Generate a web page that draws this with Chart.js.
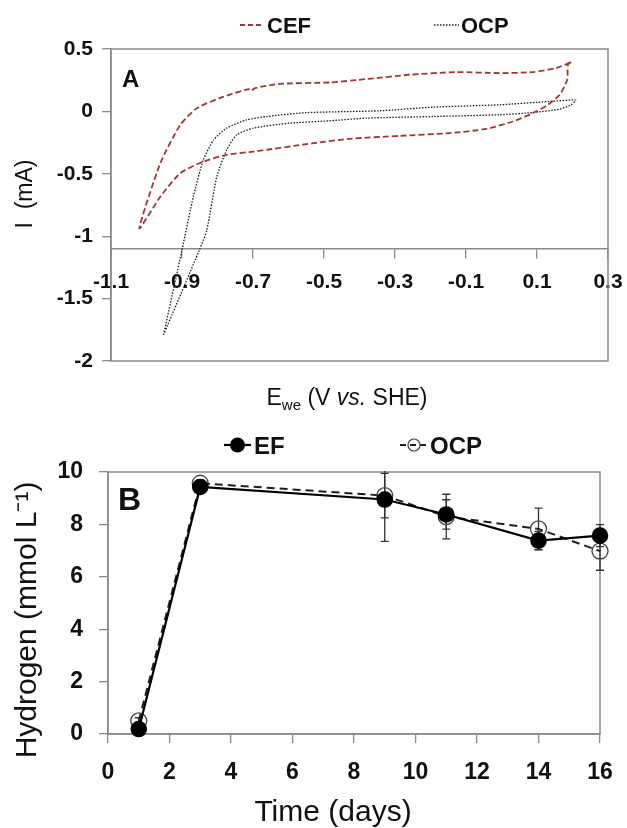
<!DOCTYPE html>
<html>
<head>
<meta charset="utf-8">
<title>CV and hydrogen</title>
<script src="https://cdn.jsdelivr.net/npm/chart.js@4.4.1/dist/chart.umd.min.js"></script>
<style>
  html, body { margin: 0; padding: 0; background: #fff; }
  #wrap { position: relative; width: 627px; height: 828px; overflow: hidden; }
  #cvA { position: absolute; left: 0; top: 0; }
  #cvB { position: absolute; left: 0; top: 420px; }
</style>
</head>
<body>
<div id="wrap">
  <canvas id="cvA" width="627" height="420"></canvas>
  <canvas id="cvB" width="627" height="408"></canvas>
</div>
<script>
// ---- panel A: cyclic voltammograms (E in V vs SHE, I in mA)
const cefPotential = [0.196, 0.187, 0.185, 0.164, 0.131, 0.088, 0.032, -0.043, -0.146, -0.286, -0.43, -0.53,
  -0.699, -0.774, -0.84, -0.905, -0.961, -1.02,
  -0.961, -0.905, -0.858, -0.793, -0.713, -0.705, -0.694, -0.624, -0.483, -0.38, -0.258, -0.127, -0.005, 0.088, 0.154, 0.196];
const cefCurrent = [0.395, 0.374, 0.254, 0.133, 0.053, -0.014, -0.081, -0.14, -0.174, -0.196, -0.22, -0.255,
  -0.322, -0.348, -0.402, -0.495, -0.683, -0.937,
  -0.415, -0.108, 0.026, 0.107, 0.179, 0.165, 0.187, 0.221, 0.232, 0.259, 0.294, 0.315, 0.307, 0.315, 0.347, 0.395];

const ocpPotential = [-0.952, -0.9, -0.868, -0.84, -0.811, -0.774, -0.718, -0.661, -0.55, -0.343, -0.193, -0.005, 0.136, 0.206,
  0.209, 0.196, 0.164, 0.088, -0.005, -0.193, -0.38, -0.483, -0.6, -0.699, -0.746, -0.774, -0.802, -0.83, -0.851, -0.952];
const ocpCurrent = [-1.79, -1.11, -0.683, -0.389, -0.228, -0.134, -0.067, -0.041, -0.01, 0.005, 0.034, 0.053, 0.08, 0.093,
  0.088, 0.053, 0.018, -0.009, -0.027, -0.041, -0.054, -0.075, -0.095, -0.134, -0.188, -0.308, -0.522, -0.95, -1.11, -1.79];

const potentialTicks = [-1.1, -0.9, -0.7, -0.5, -0.3, -0.1, 0.1, 0.3];
const currentTicks = [-2, -1.5, -1, -0.5, 0, 0.5];

// ---- panel B: hydrogen (mmol/L) over time (days)
const days = [1, 3, 9, 11, 14, 16];
const hydrogenEF = [0.19, 9.43, 8.95, 8.38, 7.38, 7.57];
const hydrogenEFErr = [0.12, 0.12, 1.6, 0.56, 0.35, 0.42];
const hydrogenOCP = [0.5, 9.57, 9.1, 8.3, 7.83, 6.98];
const hydrogenOCPErr = [0.12, 0.12, 0.85, 0.85, 0.79, 0.73];

const timeTicks = [0, 2, 4, 6, 8, 10, 12, 14, 16];
const hydrogenTicks = [0, 2, 4, 6, 8, 10];

const FONT = '"Liberation Sans", Arial, sans-serif';
const GRAY = '#8a8a8a';
const INK = '#111111';
const CEF_RED = '#a03636';

function toPoints(xs, ys) {
    return xs.map((x, i) => ({ x: x, y: ys[i] }));
}

// box round the plot area
const framePlugin = {
    id: 'frame',
    beforeDatasetsDraw(chart) {
        const a = chart.chartArea;
        const ctx = chart.ctx;
        ctx.save();
        ctx.strokeStyle = GRAY;
        ctx.lineWidth = 1.5;
        ctx.strokeRect(a.left, a.top, a.right - a.left, a.bottom - a.top);
        ctx.restore();
    }
};

// free text: panel letters and axis titles (with sub/superscript parts)
function textPlugin(items) {
    return {
        id: 'texts',
        afterDraw(chart) {
            const ctx = chart.ctx;
            items.forEach((it) => {
                let total = 0;
                it.parts.forEach((p) => {
                    ctx.font = p.font;
                    p.w = ctx.measureText(p.text).width;
                    total += p.w;
                });
                ctx.save();
                ctx.translate(it.x, it.y);
                ctx.rotate(it.rotate || 0);
                ctx.fillStyle = INK;
                ctx.textBaseline = 'alphabetic';
                let x = it.align === 'left' ? 0 : -total / 2;
                it.parts.forEach((p) => {
                    ctx.font = p.font;
                    ctx.fillText(p.text, x, p.dy || 0);
                    x += p.w;
                });
                ctx.restore();
            });
        }
    };
}

// legend drawn like the spreadsheet one: line sample, optional marker, label
function legendPlugin(items) {
    return {
        id: 'sampleLegend',
        afterDraw(chart) {
            const ctx = chart.ctx;
            items.forEach((it) => {
                ctx.save();
                ctx.strokeStyle = it.color;
                ctx.lineWidth = it.width;
                ctx.setLineDash(it.dash);
                ctx.beginPath();
                ctx.moveTo(it.x0, it.y);
                ctx.lineTo(it.x1, it.y);
                ctx.stroke();
                ctx.setLineDash([]);
                if (it.marker) {
                    ctx.beginPath();
                    ctx.arc(it.mx, it.y, it.r, 0, Math.PI * 2);
                    if (it.marker === 'filled') {
                        ctx.fillStyle = '#000';
                        ctx.fill();
                    } else {
                        ctx.lineWidth = 1.2;
                        ctx.strokeStyle = '#444';
                        ctx.stroke();
                    }
                }
                ctx.fillStyle = INK;
                ctx.font = it.font;
                ctx.textBaseline = 'alphabetic';
                ctx.fillText(it.text, it.tx, it.ty);
                ctx.restore();
            });
        }
    };
}

const errorBarPlugin = {
    id: 'errorBars',
    beforeDatasetsDraw(chart) {
        const ctx = chart.ctx;
        const a = chart.chartArea;
        const xs = chart.scales.x;
        const ys = chart.scales.y;
        ctx.save();
        ctx.beginPath();
        ctx.rect(0, a.top - 1, chart.width, a.bottom - a.top + 2);
        ctx.clip();
        ctx.strokeStyle = '#333';
        ctx.lineWidth = 1.3;
        [[hydrogenOCP, hydrogenOCPErr], [hydrogenEF, hydrogenEFErr]].forEach(([vals, errs]) => {
            days.forEach((d, i) => {
                const px = xs.getPixelForValue(d);
                const top = ys.getPixelForValue(vals[i] + errs[i]);
                const bot = ys.getPixelForValue(vals[i] - errs[i]);
                ctx.beginPath();
                ctx.moveTo(px, top);
                ctx.lineTo(px, bot);
                ctx.moveTo(px - 4, top);
                ctx.lineTo(px + 4, top);
                ctx.moveTo(px - 4, bot);
                ctx.lineTo(px + 4, bot);
                ctx.stroke();
            });
        });
        ctx.restore();
    }
};

function fixedTicks(values) {
    return (scale) => {
        scale.ticks = values.map((v) => ({ value: v }));
    };
}

// ---------------- chart A
const chartA = new Chart(document.getElementById('cvA'), {
    type: 'scatter',
    data: {
        datasets: [{
            label: 'CEF',
            data: toPoints(cefPotential, cefCurrent),
            showLine: true,
            borderColor: CEF_RED,
            borderWidth: 1.8,
            borderDash: [6, 3],
            pointRadius: 0,
            tension: 0.2,
            clip: false
        }, {
            label: 'OCP',
            data: toPoints(ocpPotential, ocpCurrent),
            showLine: true,
            borderColor: '#1a1a1a',
            borderWidth: 1.3,
            borderDash: [1.5, 1.5],
            pointRadius: 0,
            tension: 0.2,
            clip: false
        }]
    },
    options: {
        responsive: false,
        animation: false,
        layout: { padding: { top: 49, right: 19, bottom: 59, left: 0 } },
        plugins: { legend: { display: false }, tooltip: { enabled: false } },
        scales: {
            x: {
                type: 'linear',
                position: { y: -1.1 },
                min: -1.1,
                max: 0.3,
                afterBuildTicks: fixedTicks(potentialTicks),
                afterFit: (s) => { s.paddingLeft = 0; s.paddingRight = 0; },
                ticks: {
                    callback: (v) => String(v),
                    font: { family: FONT, size: 21, weight: 'bold' },
                    color: INK,
                    padding: 12,
                    maxRotation: 0,
                    autoSkip: false
                },
                grid: { drawOnChartArea: false, drawTicks: true, tickLength: 9, color: GRAY, lineWidth: 1.3 },
                border: { display: true, color: GRAY, width: 1.5 }
            },
            y: {
                type: 'linear',
                position: 'left',
                min: -2,
                max: 0.5,
                afterBuildTicks: fixedTicks(currentTicks),
                afterFit: (s) => { s.width = 111; },
                ticks: {
                    callback: (v) => String(v),
                    font: { family: FONT, size: 21, weight: 'bold' },
                    color: INK,
                    padding: 9,
                    autoSkip: false
                },
                grid: { drawOnChartArea: false, drawTicks: true, tickLength: 9, color: GRAY, lineWidth: 1.3 },
                border: { display: true, color: GRAY, width: 1.5 }
            }
        }
    },
    plugins: [
        framePlugin,
        legendPlugin([
            { x0: 240, x1: 264, y: 25, color: CEF_RED, width: 1.8, dash: [5, 3], text: 'CEF', tx: 267, ty: 33, font: 'bold 22px ' + FONT },
            { x0: 434, x1: 459, y: 25, color: '#222', width: 1.3, dash: [1.5, 1.5], text: 'OCP', tx: 461, ty: 33, font: 'bold 22px ' + FONT }
        ]),
        textPlugin([
            { parts: [{ text: 'A', font: 'bold 24px ' + FONT }], x: 122, y: 87, align: 'left' },
            { parts: [
                { text: 'E', font: '23px ' + FONT },
                { text: 'we', font: '15px ' + FONT, dy: 5 },
                { text: ' (V ', font: '23px ' + FONT },
                { text: 'vs.', font: 'italic 23px ' + FONT },
                { text: ' SHE)', font: '23px ' + FONT }
              ], x: 347, y: 405 },
            { parts: [{ text: 'I  (mA)', font: '23px ' + FONT }], x: 32, y: 194, rotate: -Math.PI / 2 }
        ])
    ]
});

// ---------------- chart B
const chartB = new Chart(document.getElementById('cvB'), {
    type: 'scatter',
    data: {
        datasets: [{
            label: 'EF',
            data: toPoints(days, hydrogenEF),
            showLine: true,
            borderColor: '#000',
            borderWidth: 2.2,
            pointRadius: 8.3,
            pointBackgroundColor: '#000',
            pointBorderColor: '#000',
            pointBorderWidth: 0,
            clip: false
        }, {
            label: 'OCP',
            data: toPoints(days, hydrogenOCP),
            showLine: true,
            borderColor: '#1e1e1e',
            borderWidth: 2,
            borderDash: [8, 5],
            pointRadius: 8,
            pointBackgroundColor: 'rgba(0,0,0,0)',
            pointBorderColor: '#444',
            pointBorderWidth: 1.3,
            clip: false
        }]
    },
    options: {
        responsive: false,
        animation: false,
        layout: { padding: { top: 52, right: 27, bottom: 0, left: 0 } },
        plugins: { legend: { display: false }, tooltip: { enabled: false } },
        scales: {
            x: {
                type: 'linear',
                position: 'bottom',
                min: 0,
                max: 16,
                afterBuildTicks: fixedTicks(timeTicks),
                afterFit: (s) => { s.height = 94; s.paddingLeft = 0; s.paddingRight = 0; },
                ticks: {
                    callback: (v) => String(v),
                    font: { family: FONT, size: 23, weight: 'bold' },
                    color: INK,
                    padding: 16,
                    maxRotation: 0,
                    autoSkip: false
                },
                grid: { drawOnChartArea: false, drawTicks: true, tickLength: 9, color: GRAY, lineWidth: 1.3 },
                border: { display: true, color: GRAY, width: 1.5 }
            },
            y: {
                type: 'linear',
                position: 'left',
                min: 0,
                max: 10,
                afterBuildTicks: fixedTicks(hydrogenTicks),
                afterFit: (s) => { s.width = 108; },
                ticks: {
                    callback: (v) => String(v),
                    font: { family: FONT, size: 23, weight: 'bold' },
                    color: INK,
                    padding: 16,
                    autoSkip: false
                },
                grid: { drawOnChartArea: false, drawTicks: true, tickLength: 9, color: GRAY, lineWidth: 1.3 },
                border: { display: true, color: GRAY, width: 1.5 }
            }
        }
    },
    plugins: [
        framePlugin,
        errorBarPlugin,
        legendPlugin([
            { x0: 224, x1: 251, y: 25, color: '#000', width: 2.2, dash: [], marker: 'filled', mx: 237.5, r: 7.5, text: 'EF', tx: 254, ty: 34, font: 'bold 24px ' + FONT },
            { x0: 400, x1: 427, y: 25, color: '#222', width: 1.8, dash: [6, 4], marker: 'open', mx: 414, r: 6, text: 'OCP', tx: 430, ty: 34, font: 'bold 24px ' + FONT }
        ]),
        textPlugin([
            { parts: [{ text: 'B', font: 'bold 32px ' + FONT }], x: 118, y: 90, align: 'left' },
            { parts: [{ text: 'Time (days)', font: '30px ' + FONT }], x: 333, y: 401 },
            { parts: [{ text: 'Hydrogen (mmol L\u207B\u00B9)', font: '30px ' + FONT }], x: 36, y: 200, rotate: -Math.PI / 2 }
        ])
    ]
});
</script>
</body>
</html>
